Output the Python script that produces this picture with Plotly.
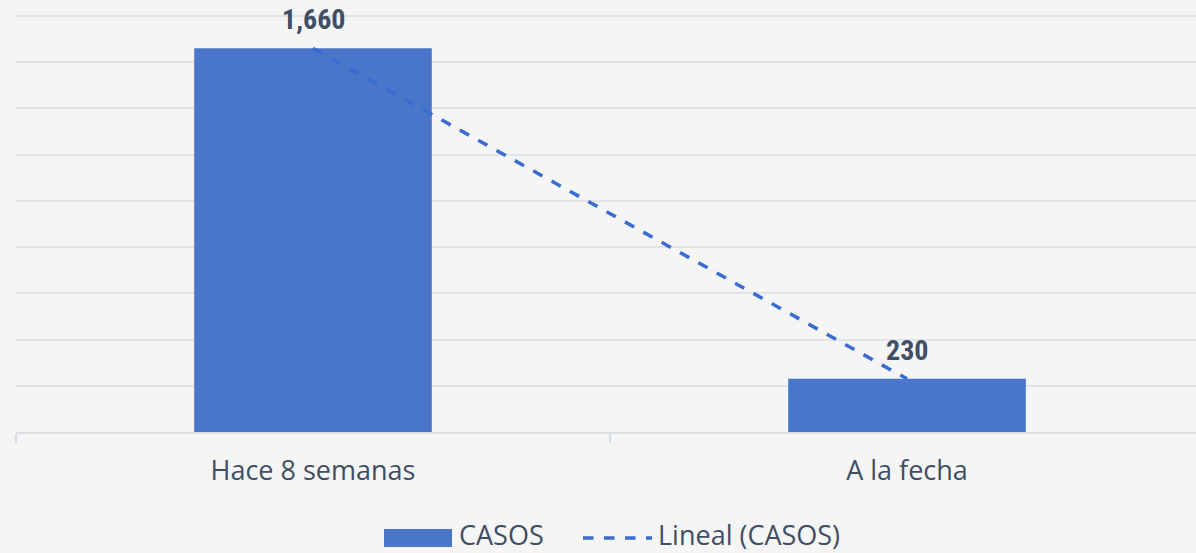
import plotly.graph_objects as go

# --- data ---
categorias = ['Hace 8 semanas', 'A la fecha']
casos = [1660, 230]
tendencia = [1660, 230]  # lineal (CASOS), two points -> passes through both
leyenda = ['CASOS', 'Lineal (CASOS)']
marcas_y = list(range(0, 1801, 200))

azul = '#4A76C9'
azul_linea = '#3A6BD0'
texto = '#404E62'
rejilla = '#DFE4EA'

fig = go.Figure()

fig.add_bar(x=categorias, y=casos, name=leyenda[0], showlegend=False,
            marker=dict(color=azul, line=dict(width=0)))

fig.add_scatter(x=categorias, y=tendencia, mode='lines', name=leyenda[1], showlegend=False,
                line=dict(color=azul_linea, width=3.5, dash='dash'))

# value labels above the bars
for c, v in zip(categorias, casos):
    fig.add_annotation(x=c, y=v, text='{:,}'.format(v), showarrow=False,
                       yanchor='bottom', yshift=10,
                       font=dict(family='Roboto Condensed, Roboto, sans-serif',
                                 size=28, color='#3F4F66', weight='bold'))

# top gridline
fig.add_shape(type='line', xref='paper', yref='y', x0=0, x1=1,
              y0=marcas_y[-1], y1=marcas_y[-1],
              line=dict(color=rejilla, width=2), layer='above')

# --- legend drawn by hand (wide bar swatch like the original) ---
W, H, L, T = 1180, 432, 16, 0   # plot area size/offsets in px


def px_x(p):
    return (p - L) / W


def px_y(p):
    return (T + H - p) / H


fig.add_shape(type='rect', xref='paper', yref='paper',
              x0=px_x(384), x1=px_x(452), y0=px_y(547), y1=px_y(529),
              fillcolor=azul, line=dict(width=0))
fig.add_shape(type='line', xref='paper', yref='paper',
              x0=px_x(583), x1=px_x(652), y0=px_y(538), y1=px_y(538),
              line=dict(color=azul_linea, width=3.5, dash='dash'))
fig.add_annotation(xref='paper', yref='paper', x=px_x(458), y=px_y(534),
                   xanchor='left', yanchor='middle', showarrow=False, borderpad=0,
                   text=leyenda[0], font=dict(size=27, color=texto))
fig.add_annotation(xref='paper', yref='paper', x=px_x(657), y=px_y(534),
                   xanchor='left', yanchor='middle', showarrow=False, borderpad=0,
                   text=leyenda[1], font=dict(size=27, color=texto))

fig.update_layout(
    width=1196, height=553,
    paper_bgcolor='#F5F5F5', plot_bgcolor='#F5F5F5',
    margin=dict(l=L, r=0, t=T, b=553 - T - H),
    bargap=0.6,
    font=dict(family='Open Sans, sans-serif', color=texto),
    showlegend=False,
    xaxis=dict(range=[-0.5, 1.4865], showgrid=False, ticks='outside', tickson='boundaries',
               ticklen=9, tickcolor='#D9DEE5', tickwidth=2,
               showline=True, linecolor='#D9DEE5', linewidth=2,
               ticklabelstandoff=14,
               tickfont=dict(size=27, color=texto)),
    yaxis=dict(range=[0, 1869], tickvals=marcas_y, showticklabels=False,
               gridcolor=rejilla, gridwidth=2, zeroline=False),
)

fig.write_html('out.html', config={'displayModeBar': False},
               post_script="document.body.style.margin='0';")
